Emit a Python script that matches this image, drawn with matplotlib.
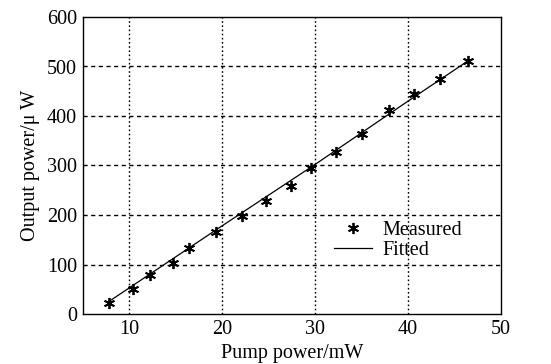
import matplotlib.pyplot as plt

plt.rcParams['font.family'] = ['Liberation Serif', 'DejaVu Serif']

# measured points
pump_mw = [7.9, 10.4, 12.3, 14.7, 16.5, 19.4, 22.1, 24.7, 27.4, 29.6,
           32.3, 35.1, 38.0, 40.6, 43.4, 46.4]
output_uw = [23, 51, 78, 104, 134, 166, 198, 228, 259, 294,
             328, 364, 412, 444, 474, 511]

# fitted line
fit_x = [7.9, 20.0, 30.0, 40.0, 46.5]
fit_y = [26, 178, 302, 430, 512]

fig = plt.figure(figsize=(5.51, 3.64), dpi=100)
ax = fig.add_axes([82.5 / 551, 1 - 314 / 364, (501 - 82.5) / 551, (314 - 17) / 364])

ax.plot(pump_mw, output_uw, linestyle='none', marker=(6, 2, 0), markersize=8,
        color='black', markeredgewidth=1.3, label='Measured')
ax.plot(fit_x, fit_y, color='black', lw=0.9, label='Fitted')

ax.set_xlim(5, 50)
ax.set_ylim(0, 600)
ax.set_xticks([10, 20, 30, 40, 50])
ax.set_yticks(range(0, 601, 100))

for x in [10, 20, 30, 40]:
    ax.axvline(x, color='black', ls=(0, (1.2, 1.8)), lw=1.0, zorder=0)
for y in [100, 200, 300, 400, 500]:
    ax.axhline(y, color='black', ls=(0, (3, 2.5)), lw=1.0, zorder=0)

ax.tick_params(direction='in', length=0, labelsize=14.5, pad=4)
for s in ax.spines.values():
    s.set_linewidth(1.0)

ax.set_xlabel('Pump power/mW', fontsize=14.5, labelpad=4)
ax.set_ylabel('Output power/\u03bc W', fontsize=14.5, labelpad=5)

ax.legend(loc='lower right', bbox_to_anchor=(0.94, 0.135), frameon=False,
          fontsize=14.5, handlelength=1.9, handletextpad=0.5, labelspacing=0.05,
          borderpad=0.2)

fig.savefig('out.png', dpi=100)
